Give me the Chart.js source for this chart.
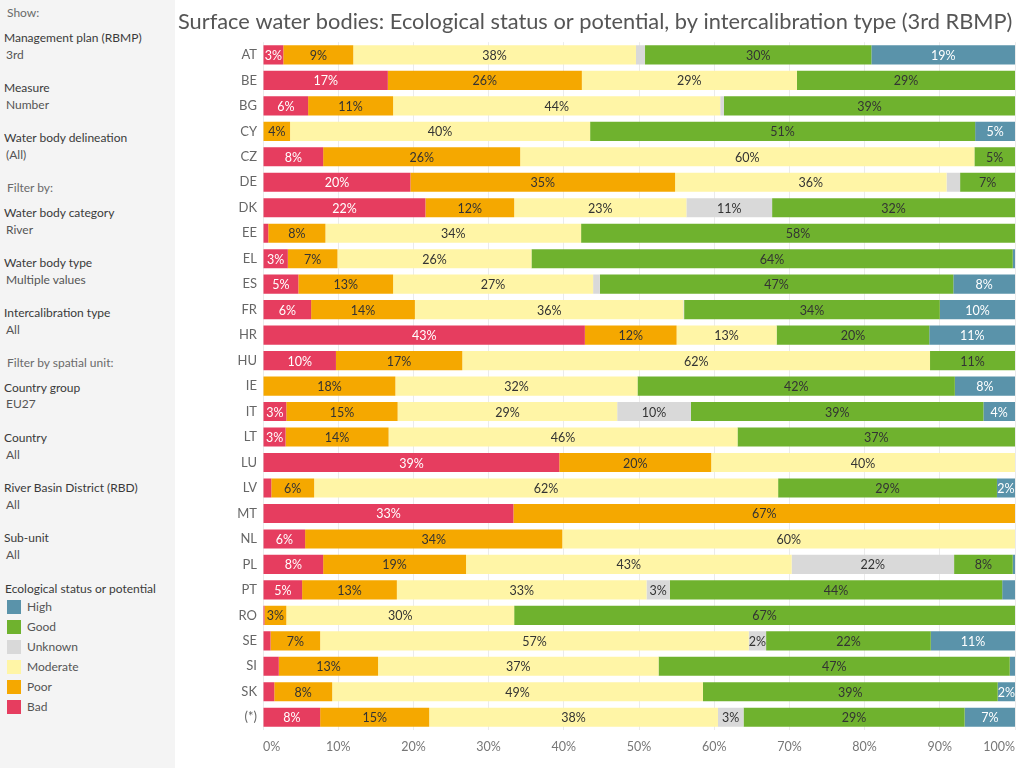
<!DOCTYPE html>
<html>
<head>
<meta charset="utf-8">
<script src="https://cdn.jsdelivr.net/npm/chart.js@4.4.1/dist/chart.umd.min.js"></script>
<style>
  body { margin: 0; width: 1024px; height: 768px; overflow: hidden; background: #fff; font-family: Lato, "Noto Sans", sans-serif; }
  #side { position: absolute; left: 0; top: 0; width: 175px; height: 768px; background: #f4f4f4; }
  #side div { position: absolute; white-space: nowrap; font-size: 12px; line-height: 16px; }
  #side .hd { left: 7px; color: #6a6a6a; }
  #side .lb { left: 4px; color: #3a3a3a; }
  #side .val { left: 6px; color: #555; }
  #side .sw { left: 7px; width: 14px; height: 14px; }
  #side .lg { left: 27px; color: #555; }
  #wrap { position: absolute; left: 175px; top: 0; width: 849px; height: 768px; }
</style>
</head>
<body>
<div id="side">
  <div class="hd" style="top:5px">Show:</div>
  <div class="lb" style="top:30px">Management plan (RBMP)</div>
  <div class="val" style="top:47px">3rd</div>
  <div class="lb" style="top:80px">Measure</div>
  <div class="val" style="top:97px">Number</div>
  <div class="lb" style="top:130px">Water body delineation</div>
  <div class="val" style="top:147px">(All)</div>
  <div class="hd" style="top:180px">Filter by:</div>
  <div class="lb" style="top:205px">Water body category</div>
  <div class="val" style="top:222px">River</div>
  <div class="lb" style="top:255px">Water body type</div>
  <div class="val" style="top:272px">Multiple values</div>
  <div class="lb" style="top:305px">Intercalibration type</div>
  <div class="val" style="top:322px">All</div>
  <div class="hd" style="top:355px">Filter by spatial unit:</div>
  <div class="lb" style="top:380px">Country group</div>
  <div class="val" style="top:396px">EU27</div>
  <div class="lb" style="top:430px">Country</div>
  <div class="val" style="top:447px">All</div>
  <div class="lb" style="top:480px">River Basin District (RBD)</div>
  <div class="val" style="top:497px">All</div>
  <div class="lb" style="top:530px">Sub-unit</div>
  <div class="val" style="top:547px">All</div>
  <div class="lb" style="top:581px;left:5px">Ecological status or potential</div>
</div>
<div id="wrap"><canvas id="statusChart" width="849" height="768"></canvas></div>
<script>
const TITLE = "Surface water bodies: Ecological status or potential, by intercalibration type (3rd RBMP)";

const countries = ["AT", "BE", "BG", "CY", "CZ", "DE", "DK", "EE", "EL", "ES", "FR", "HR", "HU", "IE",
  "IT", "LT", "LU", "LV", "MT", "NL", "PL", "PT", "RO", "SE", "SI", "SK", "(*)"];

// share of water bodies per status class, %
const bad      = [2.7, 16.6, 6.0, 0, 8.0, 19.6, 21.6, 0.7, 3.3, 4.7, 6.4, 42.8, 9.7, 0, 3.1, 3.0, 39.4, 1.1, 33.3, 5.6, 8.0, 5.2, 0.2, 1.0, 2.1, 1.5, 7.6];
const poor     = [9.3, 25.8, 11.3, 3.6, 26.2, 35.2, 11.8, 7.6, 6.6, 12.6, 13.8, 12.2, 16.8, 17.6, 14.8, 13.7, 20.2, 5.7, 66.7, 34.2, 19.0, 12.6, 2.9, 6.6, 13.2, 7.7, 14.5];
const moderate = [37.6, 28.6, 43.5, 39.9, 60.4, 36.1, 22.9, 34.0, 25.8, 26.6, 35.7, 13.3, 62.2, 32.2, 29.2, 46.4, 40.4, 61.7, 0, 60.2, 43.3, 33.2, 30.3, 57.0, 37.3, 49.3, 38.4];
const unknown  = [1.2, 0, 0.5, 0, 0, 1.8, 11.4, 0, 0, 0.9, 0.1, 0, 0, 0, 9.8, 0, 0, 0, 0, 0, 21.6, 3.1, 0, 2.3, 0, 0, 3.4];
const good     = [30.1, 29.0, 38.7, 51.2, 5.4, 7.3, 32.3, 57.7, 64.0, 47.0, 34.0, 20.3, 11.3, 42.2, 38.9, 36.9, 0, 29.1, 0, 0, 7.8, 44.2, 66.6, 21.9, 46.7, 39.2, 29.4];
const high     = [19.1, 0, 0, 5.3, 0, 0, 0, 0, 0.3, 8.2, 10.0, 11.4, 0, 8.0, 4.2, 0, 0, 2.4, 0, 0, 0.3, 1.7, 0, 11.2, 0.7, 2.3, 6.7];

const xTicks = [0, 10, 20, 30, 40, 50, 60, 70, 80, 90, 100];

const series = [
  { label: "Bad", data: bad, color: "#e63d5f", text: "#ffffff" },
  { label: "Poor", data: poor, color: "#f5a800", text: "#333333" },
  { label: "Moderate", data: moderate, color: "#fff5a6", text: "#333333" },
  { label: "Unknown", data: unknown, color: "#d9d9d9", text: "#333333" },
  { label: "Good", data: good, color: "#6fb22e", text: "#333333" },
  { label: "High", data: high, color: "#5a93aa", text: "#ffffff" }
];

// legend in the side panel, High first
const side = document.getElementById("side");
series.slice().reverse().forEach((s, i) => {
  const sw = document.createElement("div");
  sw.className = "sw";
  sw.style.top = (600 + i * 20) + "px";
  sw.style.background = s.color;
  side.appendChild(sw);
  const t = document.createElement("div");
  t.className = "lg";
  t.style.top = (599 + i * 20) + "px";
  t.textContent = s.label;
  side.appendChild(t);
});

const barLabels = {
  id: "barLabels",
  afterDatasetsDraw(chart) {
    const ctx = chart.ctx;
    ctx.save();
    ctx.font = "12.5px Lato, 'Noto Sans', sans-serif";
    ctx.textAlign = "center";
    ctx.textBaseline = "middle";
    chart.data.datasets.forEach((ds, i) => {
      chart.getDatasetMeta(i).data.forEach((bar, j) => {
        const v = ds.data[j];
        if (v < 2.2) return;
        ctx.fillStyle = ds.labelColor;
        ctx.fillText(Math.round(v) + "%", (bar.x + bar.base) / 2, bar.y + 1);
      });
    });
    ctx.restore();
  }
};

const ctx = document.getElementById("statusChart").getContext("2d");
new Chart(ctx, {
  type: "bar",
  data: {
    labels: countries,
    datasets: series.map(s => ({
      label: s.label,
      data: s.data,
      backgroundColor: s.color,
      labelColor: s.text,
      borderWidth: 0,
      barPercentage: 0.75,
      categoryPercentage: 1
    }))
  },
  options: {
    indexAxis: "y",
    responsive: false,
    animation: false,
    layout: { padding: { left: 3, right: 8, top: 0, bottom: 0 } },
    plugins: {
      legend: { display: false },
      tooltip: { enabled: false },
      title: {
        display: true,
        text: TITLE,
        align: "start",
        color: "#555",
        font: { family: "Lato, 'Noto Sans', sans-serif", size: 21.8, weight: "normal" },
        padding: { top: 9, bottom: 7 }
      }
    },
    scales: {
      x: {
        stacked: true,
        min: 0,
        max: 100,
        afterBuildTicks: s => { s.ticks = xTicks.map(v => ({ value: v })); },
        ticks: {
          callback: v => v + "%",
          align: "inner",
          color: "#777",
          padding: 9,
          font: { family: "Lato, 'Noto Sans', sans-serif", size: 12.5 }
        },
        grid: { color: "#ebebeb", drawTicks: false },
        border: { display: false },
        afterFit: s => { s.height = 38; }
      },
      y: {
        stacked: true,
        ticks: {
          color: "#666",
          padding: 6,
          font: { family: "Lato, 'Noto Sans', sans-serif", size: 13 }
        },
        grid: { display: false, drawTicks: false },
        border: { display: false },
        afterFit: s => { s.width = 85; }
      }
    }
  },
  plugins: [barLabels]
});
</script>
</body>
</html>
